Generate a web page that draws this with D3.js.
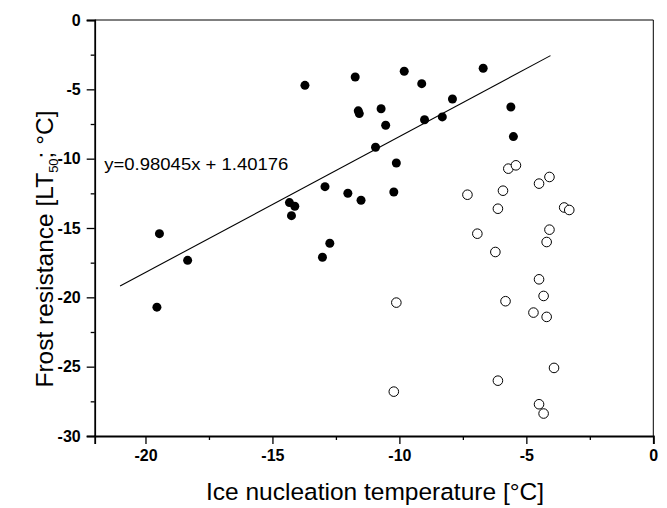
<!DOCTYPE html>
<html>
<head>
<meta charset="utf-8">
<script src="https://cdn.jsdelivr.net/npm/d3@7"></script>
<style>
  body { margin: 0; background: #fff; }
  svg { display: block; }
  text { font-family: Arial, "Liberation Sans", Helvetica, sans-serif; fill: #000; }
</style>
</head>
<body>
<svg id="chart" width="667" height="508"></svg>
<script>
// ---- data ----
const filledX = [-13.72, -11.74, -11.62, -11.58, -10.72, -10.54, -10.94, -12.93, -12.03, -11.51,
                 -14.33, -14.12, -14.25, -9.81, -9.12, -6.70, -7.91, -9.01, -8.31, -5.61,
                 -5.51, -10.12, -10.22, -19.45, -18.34, -19.55, -12.74, -13.03];
const filledY = [-4.71, -4.11, -6.55, -6.75, -6.40, -7.59, -9.18, -12.02, -12.49, -13.00,
                 -13.17, -13.43, -14.11, -3.70, -4.59, -3.48, -5.70, -7.19, -6.99, -6.27,
                 -8.41, -10.31, -12.40, -15.41, -17.33, -20.71, -16.10, -17.11];
const openX = [-5.71, -5.41, -7.32, -5.92, -4.50, -4.09, -6.12, -3.51, -3.31, -6.93,
               -4.09, -4.20, -6.22, -4.50, -10.12, -5.82, -4.32, -4.72, -4.20, -3.91,
               -6.12, -10.22, -4.50, -4.32];
const openY = [-10.72, -10.48, -12.60, -12.31, -11.80, -11.32, -13.61, -13.52, -13.70, -15.41,
               -15.12, -16.01, -16.73, -18.70, -20.38, -20.28, -19.90, -21.10, -21.41, -25.09,
               -26.01, -26.80, -27.71, -28.38];
const slope = 0.98045;
const intercept = 1.40176;
const fitRange = [-21.0, -4.05];
const xMajorTicks = [-20, -15, -10, -5, 0];
const xMinorTicks = [-17.5, -12.5, -7.5, -2.5];
const yMajorTicks = [0, -5, -10, -15, -20, -25, -30];
const yMinorTicks = [-2.5, -7.5, -12.5, -17.5, -22.5, -27.5];
const equationLabel = "y=0.98045x + 1.40176";
const xTitle = "Ice nucleation temperature [°C]";

// ---- layout ----
const svg = d3.select("#chart");
const L = 94.7, R = 653.3, T = 20, B = 436;
const x = d3.scaleLinear().domain([-22, 0]).range([L, R]);
const y = d3.scaleLinear().domain([-30, 0]).range([B, T]);

// frame (top/right thin)
svg.append("line").attr("x1", L).attr("x2", R).attr("y1", T).attr("y2", T)
  .attr("stroke", "#000").attr("stroke-width", 1);
svg.append("line").attr("x1", R).attr("x2", R).attr("y1", T).attr("y2", B)
  .attr("stroke", "#000").attr("stroke-width", 1);

// bottom axis
const gx = svg.append("g").attr("transform", `translate(0,${B})`);
gx.call(d3.axisBottom(x).tickValues(xMajorTicks).tickSize(8).tickPadding(6).tickFormat(d3.format("d")));
const gxm = svg.append("g").attr("transform", `translate(0,${B})`);
gxm.call(d3.axisBottom(x).tickValues(xMinorTicks).tickSize(4).tickFormat(""));
gxm.select(".domain").remove();

// left axis
const gy = svg.append("g").attr("transform", `translate(${L},0)`);
gy.call(d3.axisLeft(y).tickValues(yMajorTicks).tickSize(8).tickPadding(6).tickFormat(d3.format("d")));
const gym = svg.append("g").attr("transform", `translate(${L},0)`);
gym.call(d3.axisLeft(y).tickValues(yMinorTicks).tickSize(4).tickFormat(""));
gym.select(".domain").remove();

svg.selectAll(".domain").attr("stroke", "#000").attr("stroke-width", 1.8);
svg.selectAll(".tick line").attr("stroke", "#000").attr("stroke-width", 1.3);
svg.selectAll(".tick text")
  .style("font-family", "Arial, 'Liberation Sans', sans-serif")
  .style("font-weight", "bold")
  .style("font-size", "16px")
  .attr("fill", "#000");
svg.selectAll(".tick text").text(function() { return d3.select(this).text().replace("−", "-"); });

// regression line
const fit = fitRange.map(v => [v, slope * v + intercept]);
svg.append("path")
  .attr("d", d3.line().x(d => x(d[0])).y(d => y(d[1]))(fit))
  .attr("stroke", "#000").attr("stroke-width", 1.1).attr("fill", "none");

// open circles
svg.append("g").selectAll("circle").data(openX.map((v, i) => [v, openY[i]]))
  .join("circle")
  .attr("cx", d => x(d[0])).attr("cy", d => y(d[1])).attr("r", 4.8)
  .attr("fill", "#fff").attr("stroke", "#000").attr("stroke-width", 1);

// filled circles
svg.append("g").selectAll("circle").data(filledX.map((v, i) => [v, filledY[i]]))
  .join("circle")
  .attr("cx", d => x(d[0])).attr("cy", d => y(d[1])).attr("r", 4.5)
  .attr("fill", "#000");

// equation
svg.append("text").attr("x", 104.3).attr("y", 170)
  .attr("textLength", 184).attr("lengthAdjust", "spacingAndGlyphs")
  .style("font-size", "16.5px").text(equationLabel);

// axis titles
svg.append("text").attr("x", 375).attr("y", 500).attr("text-anchor", "middle")
  .style("font-size", "24.5px").text(xTitle);

const yt = svg.append("text")
  .attr("transform", "translate(53,249) rotate(-90)")
  .attr("text-anchor", "middle")
  .style("font-size", "24.5px");
yt.append("tspan").text("Frost resistance [LT");
yt.append("tspan").attr("dy", 5).style("font-size", "13px").text("50");
yt.append("tspan").attr("dy", -5).text("; °C]");
</script>
</body>
</html>
